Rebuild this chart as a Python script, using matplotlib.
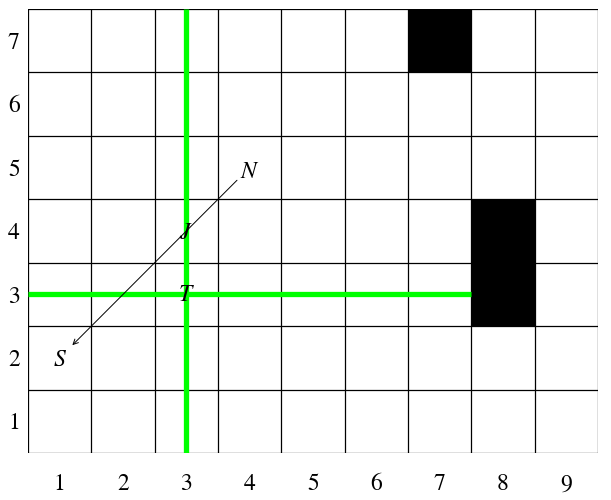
import matplotlib
matplotlib.use("Agg")
import matplotlib.pyplot as plt
from matplotlib.patches import Rectangle

plt.rcParams["mathtext.fontset"] = "stix"

cols = [1, 2, 3, 4, 5, 6, 7, 8, 9]
rows = [1, 2, 3, 4, 5, 6, 7]
x_labels = ["1", "2", "3", "4", "5", "6", "7", "8", "9"]
y_labels = ["1", "2", "3", "4", "5", "6", "7"]
black_cells = [(7, 7), (8, 4), (8, 3)]
green_v_x = 3
green_h_y = 3
green_h_end = 7.5
arrow_start = (3.8, 4.8)
arrow_end = (1.2, 2.2)
point_labels = ["N", "S", "J", "T"]
point_x = [4.0, 1.0, 3.0, 3.0]
point_y = [4.95, 1.98, 3.98, 3.0]

FONT = ["STIXGeneral", "Liberation Serif", "DejaVu Serif"]

fig = plt.figure(figsize=(6.11, 5.0), dpi=100)
ax = fig.add_axes([28/611, 47/500, 570/611, 444/500])
ax.set_xlim(0.5, 9.5)
ax.set_ylim(0.5, 7.5)

for (cx, cy) in black_cells:
    ax.add_patch(Rectangle((cx-0.5, cy-0.5), 1, 1, facecolor="black", edgecolor="none", zorder=1))

for i in range(len(cols)+1):
    ax.axvline(0.5+i, color="black", lw=0.9, zorder=2)
for j in range(len(rows)+1):
    ax.axhline(0.5+j, color="black", lw=0.9, zorder=2)

ax.plot([green_v_x, green_v_x], [0.5, 7.5], color="#00ff00", lw=3.8, zorder=3, solid_capstyle="butt")
ax.plot([0.5, green_h_end], [green_h_y, green_h_y], color="#00ff00", lw=3.8, zorder=3, solid_capstyle="butt")

ax.annotate("", xy=arrow_end, xytext=arrow_start,
            arrowprops=dict(arrowstyle="->", color="black", lw=0.7, shrinkA=0, shrinkB=0,
                            mutation_scale=9), zorder=4)

for lab, px, py in zip(point_labels, point_x, point_y):
    ax.text(px, py, "$" + lab + "$", fontsize=17,
            ha="center", va="center", zorder=5)

for s in ax.spines.values():
    s.set_visible(False)
ax.set_xticks(cols)
ax.set_xticklabels(x_labels, family=FONT, fontsize=17)
ax.set_yticks(rows)
ax.set_yticklabels(y_labels, family=FONT, fontsize=17)
ax.tick_params(axis="x", length=0, pad=15)
ax.tick_params(axis="y", length=0, pad=6)

fig.savefig("out.png", dpi=100)
